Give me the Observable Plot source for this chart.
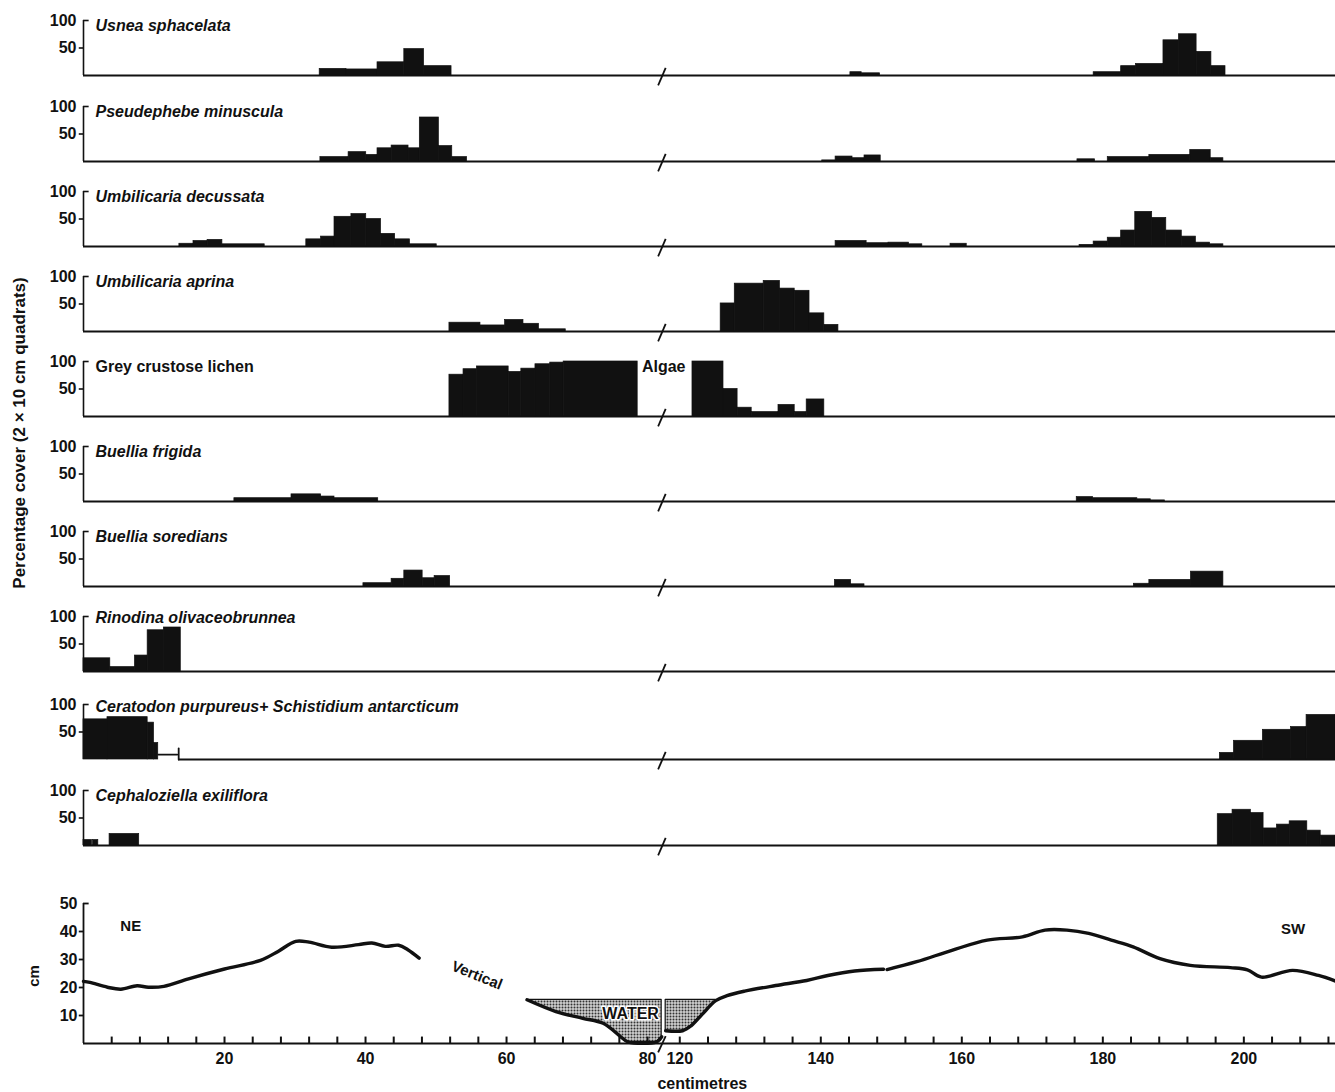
<!DOCTYPE html>
<html><head><meta charset="utf-8">
<script src="https://cdn.jsdelivr.net/npm/d3@7"></script>
<script src="https://cdn.jsdelivr.net/npm/@observablehq/plot@0.6"></script>
<style>
html,body{margin:0;padding:0;background:#fff;}
#root{position:relative;width:1335px;height:1092px;overflow:hidden;font-family:"Liberation Sans",Arial,Helvetica,sans-serif;color:#111;background:#fff;}
#root svg{position:absolute;left:0;}
.vlab{position:absolute;white-space:nowrap;transform:translate(-50%,-50%) rotate(-90deg);color:#111;}
</style></head><body><div id="root"></div>
<script>
// ---------- data ----------
const species = ["Usnea sphacelata","Pseudephebe minuscula","Umbilicaria decussata","Umbilicaria aprina",
  "Grey crustose lichen","Buellia frigida","Buellia soredians","Rinodina olivaceobrunnea",
  "Ceratodon purpureus+ Schistidium antarcticum","Cephaloziella exiliflora"];
const labelItalic = [true,true,true,true,false,true,true,true,true,true];
const labelLevel = [90,90,90,90,90,90,90,98,96,90];

// [from cm, to cm, percentage cover]
const usnea = [[33.5,37.3,12],[37.3,41.7,11],[41.7,45.5,24],[45.5,48.3,48],[48.3,52.2,17],
  [144.2,145.8,6],[145.8,148.4,4],
  [178.7,182.6,6],[182.6,184.7,17],[184.7,188.6,21],[188.6,190.8,64],[190.8,193.3,75],[193.3,195.4,43],[195.4,197.4,17]];
const pseudephebe = [[33.6,37.6,8],[37.6,40.1,17],[40.1,41.7,12],[41.7,43.7,24],[43.7,46.1,29],[46.1,47.7,24],[47.7,50.4,80],[50.4,52.3,28],[52.3,54.4,8],
  [140.2,142.1,2],[142.1,144.5,9],[144.5,146.2,6],[146.2,148.5,11],
  [176.4,178.9,4],[180.7,186.6,8],[186.6,192.4,12],[192.4,195.3,21],[195.3,197.1,6]];
const umbDecussata = [[13.6,15.6,5],[15.6,17.6,10],[17.6,19.7,12],[19.7,25.7,4],
  [31.6,33.7,13],[33.7,35.6,18],[35.6,38,54],[38,40.1,59],[40.1,42.2,50],[42.2,44.2,23],[44.2,46.3,13],[46.3,50.1,4],
  [142.1,146.5,10],[146.5,149.6,6],[149.6,152.5,7],[152.5,154.4,4],[158.4,160.7,5],
  [176.7,178.7,3],[178.7,180.7,9],[180.7,182.6,16],[182.6,184.6,29],[184.6,187,63],[187,189,52],[189,191.2,29],[191.2,193.2,18],[193.2,195.2,7],[195.2,197.1,4]];
const umbAprina = [[51.9,56.3,16],[56.3,59.8,11],[59.8,62.4,21],[62.4,64.6,14],[64.6,68.4,4],
  [125.8,127.8,51],[127.8,131.9,87],[131.9,134.2,92],[134.2,136.3,78],[136.3,138.4,74],[138.4,140.5,33],[140.5,142.5,12]];
const greyCrustose = [[51.9,53.9,76],[53.9,55.8,86],[55.8,60.3,91],[60.3,62.1,81],[62.1,64.1,87],[64.1,66.2,95],[66.2,68.1,98],[68.1,78.6,100],
  [121.8,126.2,100],[126.2,128.2,50],[128.2,130.2,16],[130.2,134,8],[134,136.3,21],[136.3,138,8],[138,140.5,31]];
const buelliaFrigida = [[21.4,29.5,6],[29.5,33.7,13],[33.7,35.6,9],[35.6,41.8,6],
  [176.3,178.6,8],[178.6,184.9,6],[184.9,186.8,4],[186.8,188.8,2]];
const buelliaSoredians = [[39.7,43.7,6],[43.7,45.5,14],[45.5,48.1,29],[48.1,49.8,15],[49.8,52,19],
  [142,144.3,12],[144.3,146.2,4],[184.4,186.6,5],[186.6,192.5,12],[192.5,197.1,27]];
const rinodina = [[0,3.8,24],[3.8,7.3,8],[7.3,9.1,29],[9.1,11.4,75],[11.4,13.8,80]];
const ceratodon = [[0,3.4,73],[3.4,9.1,77],[9.1,10,67],[10,10.6,30],
  [196.6,198.6,12],[198.6,202.7,34],[202.7,206.7,54],[206.7,208.9,59],[208.9,213,81]];
const ceratodonTrace = [[10.6,9,"a"],[13.3,9,"a"],[13.5,20,"b"],[13.5,0,"b"]];
const cephaloziella = [[0,1.2,10],[1.35,2.1,10],[3.7,7.9,21],
  [196.3,198.4,57],[198.4,201,65],[201,202.8,59],[202.8,204.7,31],[204.7,206.5,38],[206.5,209,44],[209,210.9,27],[210.9,213,18]];
const series = [usnea,pseudephebe,umbDecussata,umbAprina,greyCrustose,buelliaFrigida,buelliaSoredians,rinodina,ceratodon,cephaloziella];
const baseStart = [0,0,0,0,0,0,0,0,13.5,0];
const coverTicks = [50,100];

// ground profile: [cm along transect, height cm, segment]
const profile = [
  [0,22.2,"A"],[0.9,21.8,"A"],[3.4,20.1,"A"],[5.3,19.4,"A"],[7.6,20.6,"A"],[9.2,20.1,"A"],[11.4,20.4,"A"],[14.9,23.1,"A"],
  [20,26.6,"A"],[25.1,29.7,"A"],[27.6,32.9,"A"],[30.1,36.5,"A"],[32,36.2,"A"],[35.2,34.4,"A"],[39,35.3,"A"],[40.9,35.9,"A"],
  [42.8,34.7,"A"],[44.7,35.1,"A"],[46,33.5,"A"],[47.6,30.5,"A"],
  [62.9,15.6,"B"],[67,11.4,"B"],[70.8,9.0,"B"],[73.7,7.2,"B"],[76.2,2.4,"B"],[77.2,0.6,"B"],[81.3,0.6,"B"],[82,2.4,"B"],
  [118,4.55,"C"],[120.4,4.55,"C"],[121.6,6.3,"C"],[123.2,10.5,"C"],[125.1,15.3,"C"],[126.7,17.1,"C"],[129.2,18.7,"C"],
  [133.6,20.7,"C"],[138,22.5,"C"],[141,24.3,"C"],[144.8,25.9,"C"],[148.9,26.5,"C"],
  [149.4,26.4,"D"],[153.6,29.2,"D"],[158.6,33.3,"D"],[163.6,36.9,"D"],[168.6,38.1,"D"],[171.8,40.5,"D"],[174.9,40.5,"D"],
  [178,39.3,"D"],[181.2,36.9,"D"],[184.3,34.5,"D"],[188.1,30.3,"D"],[192.4,27.9,"D"],[198.1,27.1,"D"],[200.5,26.3,"D"],
  [202.5,23.7,"D"],[206.9,26.1,"D"],[210.6,24.3,"D"],[213,22.3,"D"]];
const waterLeft = [[62.9,15.6],[67,11.4],[70.8,9.0],[73.7,7.2],[76.2,2.4],[77.2,0.6],[81.3,0.6],[82,2.4]];
const waterRight = [[118,4.55],[120.4,4.55],[121.6,6.3],[123.2,10.5],[125.1,15.3]];
const waterLevel = 15.6;
const xTicks = [20,40,60,80,120,140,160,180,200];
const xMinorTicks = [4,8,12,16,20,24,28,32,36,40,44,48,52,56,60,64,68,72,76,80,
  120,124,128,132,136,140,144,148,152,156,160,164,168,172,176,180,184,188,192,196,200,204,208,212];
const heightTicks = [10,20,30,40,50];
const profileLabels = [
  {x:6.7,y:42,text:"NE",rotate:0},{x:207,y:41,text:"SW",rotate:0},
  {x:55.8,y:24.3,text:"Vertical",rotate:22}];
const waterLabel = [{x:77.6,y:10.7,text:"WATER"}];
const algaeLabel = [{x:100,y:91,text:"Algae"}];
const axisTitle = [{x:123.2,y:-14.3,text:"centimetres"}];
const breakMark = [{x1:81.5,x2:118}];

// ---------- layout ----------
// broken axis: 0–82 cm and 118–213 cm, with a narrow gap between
const GAP_A = 82, GAP_B = 118, GAP_W = 0.57;
const u = cm => cm <= GAP_A ? cm : cm >= GAP_B ? cm - (GAP_B - GAP_A) + GAP_W : GAP_A + (cm - GAP_A) / (GAP_B - GAP_A) * GAP_W;
const X = {domain:[0,u(213)],range:[83,1335],axis:null};
const INK = "#111";
const FONT = '"Liberation Sans",Arial,Helvetica,sans-serif';
const baselines = [75,160.5,246,331,416,500.5,585.5,671,759,845];
const root = document.getElementById("root");

series.forEach((data,i) => {
  const marks = [
    Plot.ruleY([0],{x1:u(baseStart[i]),x2:u(213),stroke:INK,strokeWidth:1.8}),
    Plot.rect(data,{x1:d=>u(d[0]),x2:d=>u(d[1]),y1:0,y2:d=>d[2],fill:INK,stroke:INK,strokeWidth:0.7}),
    Plot.ruleX([u(0)],{y1:0,y2:100,stroke:INK,strokeWidth:1.6}),
    Plot.ruleY([100],{x1:u(0),x2:0.8,stroke:INK,strokeWidth:1.6}),
    Plot.ruleY([50],{x1:-0.6,x2:u(0),stroke:INK,strokeWidth:1.6}),
    Plot.text(coverTicks,{x:u(0),y:d=>d,text:d=>String(d),dx:-7,textAnchor:"end",fontSize:16,fontWeight:"bold",fill:INK}),
    Plot.text([species[i]],{x:u(1.7),y:labelLevel[i],text:d=>d,textAnchor:"start",fontSize:16,fontWeight:"bold",
      fontStyle:labelItalic[i]?"italic":"normal",fill:INK}),
    Plot.link(breakMark,{x1:d=>u(d.x1),x2:d=>u(d.x2),y1:-18,y2:14,stroke:INK,strokeWidth:1.8})
  ];
  if (i === 8) marks.push(Plot.line(ceratodonTrace,{x:d=>u(d[0]),y:d=>d[1],z:d=>d[2],stroke:INK,strokeWidth:1.8}));
  if (i === 4) marks.push(Plot.text(algaeLabel,{x:d=>u(d.x),y:"y",text:"text",fontSize:16,fontWeight:"bold",fill:INK}));
  const p = Plot.plot({
    width:1335,height:85,marginLeft:83,marginRight:0,marginTop:0,marginBottom:0,
    style:{background:"transparent",fontFamily:FONT,overflow:"visible"},
    x:X,
    y:{domain:[0,100],range:[70,15],axis:null},
    marks
  });
  p.style.top = (baselines[i]-70)+"px";
  root.appendChild(p);
});

// profile panel
const prof = Plot.plot({
  width:1335,height:212,marginLeft:83,marginRight:0,marginTop:0,marginBottom:0,
  style:{background:"transparent",fontFamily:FONT,overflow:"visible"},
  x:X,
  y:{domain:[0,50],range:[163,23],axis:null},
  marks:[
    Plot.areaY(waterLeft,{x:d=>u(d[0]),y1:d=>d[1],y2:waterLevel,fill:"url(#stipple)",stroke:INK,strokeWidth:1.2}),
    Plot.areaY(waterRight,{x:d=>u(d[0]),y1:d=>d[1],y2:waterLevel,fill:"url(#stipple)",stroke:INK,strokeWidth:1.2}),
    Plot.line(profile,{x:d=>u(d[0]),y:d=>d[1],z:d=>d[2],stroke:INK,strokeWidth:3.4,curve:"catmull-rom",strokeLinecap:"round"}),
    Plot.ruleY([0],{stroke:INK,strokeWidth:2}),
    Plot.ruleX(xMinorTicks,{x:d=>u(d),y1:0,y2:2.3,stroke:INK,strokeWidth:2}),
    Plot.ruleX([u(0)],{y1:0,y2:50,stroke:INK,strokeWidth:1.8}),
    Plot.ruleY([50],{x1:u(0),x2:0.8,stroke:INK,strokeWidth:1.8}),
    Plot.ruleY([10,20,30,40],{x1:-0.6,x2:u(0),stroke:INK,strokeWidth:1.8}),
    Plot.link(breakMark,{x1:d=>u(d.x1),x2:d=>u(d.x2),y1:-3.2,y2:2.6,stroke:INK,strokeWidth:1.8}),
    Plot.text(heightTicks,{x:u(0),y:d=>d,text:d=>String(d),dx:-6,textAnchor:"end",fontSize:16,fontWeight:"bold",fill:INK}),
    Plot.text(xTicks,{x:d=>u(d),y:0,text:d=>String(d),dy:15,fontSize:16,fontWeight:"bold",fill:INK}),
    Plot.text(profileLabels,{x:d=>u(d.x),y:"y",text:"text",rotate:"rotate",fontSize:15,fontWeight:"bold",fill:INK}),
    Plot.text(waterLabel,{x:d=>u(d.x),y:"y",text:"text",fontSize:16,fontWeight:"bold",fill:INK,stroke:"white",strokeWidth:3}),
    Plot.text(axisTitle,{x:d=>u(d.x),y:"y",text:"text",fontSize:16,fontWeight:"bold",fill:INK})
  ]
});
const ns = "http://www.w3.org/2000/svg";
const defs = document.createElementNS(ns,"defs");
defs.innerHTML = '<pattern id="stipple" width="3" height="3" patternUnits="userSpaceOnUse"><rect width="3" height="3" fill="#cfcfcf"/><circle cx="1.5" cy="1.5" r="1" fill="#333"/></pattern>';
prof.insertBefore(defs, prof.firstChild);
prof.style.top = "880px";
root.appendChild(prof);

// rotated axis titles
const yl = document.createElement("div");
yl.className = "vlab"; yl.textContent = "Percentage cover (2 × 10 cm quadrats)";
yl.style.left = "20px"; yl.style.top = "433px"; yl.style.fontSize = "17px"; yl.style.fontWeight = "bold";
root.appendChild(yl);
const cl = document.createElement("div");
cl.className = "vlab"; cl.textContent = "cm";
cl.style.left = "33px"; cl.style.top = "976px"; cl.style.fontSize = "15px"; cl.style.fontWeight = "bold";
root.appendChild(cl);
</script></body></html>
